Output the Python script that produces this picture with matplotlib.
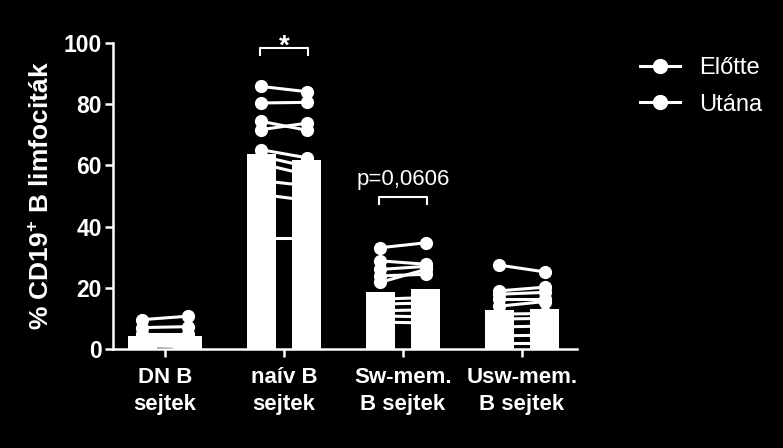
import matplotlib
matplotlib.use("Agg")
import matplotlib.pyplot as plt
from matplotlib.lines import Line2D
import numpy as np

#~~~Data~~~
groups = ["DN B\nsejtek", "naív B\nsejtek", "Sw-mem.\nB sejtek", "Usw-mem.\nB sejtek"]
bar_before = [4.2, 63.8, 18.5, 12.7]
bar_after = [4.2, 61.9, 19.5, 13.0]

# paired values, one row per subject
dn_before = [9.6, 7.0, 5.0, 4.0, 3.5, 3.0, 2.5, 2.3, 1.5, 1.0]
dn_after = [10.7, 7.3, 5.0, 4.0, 3.5, 3.0, 2.5, 2.3, 1.0, 0.8]
naiv_before = [85.8, 80.4, 74.4, 71.7, 65.1, 63.0, 60.5, 55.0, 50.5, 36.2]
naiv_after = [84.1, 80.6, 71.5, 73.8, 62.5, 59.6, 57.0, 53.4, 48.6, 36.2]
sw_before = [33.1, 28.8, 26.0, 23.9, 21.8, 16.3, 14.7, 12.5, 10.8, 8.8]
sw_after = [34.7, 27.7, 27.0, 24.4, 26.0, 16.8, 15.0, 12.8, 10.5, 8.5]
usw_before = [27.4, 19.0, 17.9, 16.3, 14.0, 11.4, 9.8, 7.2, 4.3, 2.0]
usw_after = [25.2, 20.2, 18.5, 16.3, 15.5, 11.6, 10.0, 7.5, 4.5, 2.0]

before = [dn_before, naiv_before, sw_before, usw_before]
after = [dn_after, naiv_after, sw_after, usw_after]

legend_labels = ["Előtte", "Utána"]

#~~~Style~~~
plt.rcParams['font.family'] = ['Liberation Sans', 'DejaVu Sans']
plt.rcParams['mathtext.fontset'] = 'custom'
plt.rcParams['mathtext.rm'] = 'Liberation Sans:bold'
plt.rcParams['mathtext.default'] = 'rm'

fig = plt.figure(figsize=(7.83, 4.48), dpi=100, facecolor='black')
ax = fig.add_axes([0.1443, 0.221, 0.5926, 0.683])
ax.set_facecolor('black')

off = 0.19
w = 0.25
x = np.arange(len(groups))

ax.bar(x - off, bar_before, width=w, color='white', zorder=2)
ax.bar(x + off, bar_after, width=w, color='white', zorder=2)

for i in range(len(groups)):
    for b, a in zip(before[i], after[i]):
        ax.plot([x[i] - off, x[i] + off], [b, a], '-', color='white', lw=2.2,
                marker='o', ms=9.5, mfc='white', mec='white', mew=0, zorder=3)

# significance brackets
def bracket(ax, xc, y, txt, bold, size, ty):
    ax.plot([xc - 0.2, xc - 0.2, xc + 0.2, xc + 0.2], [y - 2.2, y, y, y - 2.2],
            color='white', lw=1.5, clip_on=False, zorder=4)
    ax.text(xc, ty, txt, color='white', ha='center', va='baseline',
            fontsize=size, fontweight='bold' if bold else 'normal', clip_on=False)

bracket(ax, x[1], 98.4, "*", True, 20, 96.5)
bracket(ax, x[2], 49.7, "p=0,0606", False, 16, 53.6)

ax.set_xlim(-0.437, 3.462)
ax.set_ylim(0, 100)
ax.set_yticks([0, 20, 40, 60, 80, 100])
ax.set_xticks(x)
ax.set_xticklabels(groups, fontsize=16, fontweight='bold', color='white', linespacing=1.35)
for lab in ax.get_yticklabels():
    lab.set_fontsize(16.5)
    lab.set_fontweight('bold')
    lab.set_color('white')

for s in ['top', 'right']:
    ax.spines[s].set_visible(False)
for s in ['left', 'bottom']:
    ax.spines[s].set_color('white')
    ax.spines[s].set_linewidth(1.8)
ax.tick_params(colors='white', width=1.8, length=6, direction='out')
ax.tick_params(axis='x', pad=7)
ax.tick_params(axis='y', pad=2)

ax.set_ylabel("% CD19$^{+}$ B limfociták", fontsize=19, fontweight='bold',
              color='white', labelpad=7)

handles = [Line2D([0], [0], color='white', lw=2.2, marker='o', ms=10, mfc='white')
           for _ in legend_labels]
leg = fig.legend(handles, legend_labels, loc='upper left', bbox_to_anchor=(0.79, 0.92),
                 frameon=False, fontsize=17, handlelength=1.7, labelspacing=0.62,
                 handletextpad=0.8)
for t in leg.get_texts():
    t.set_color('white')

fig.savefig("out.png", dpi=100, facecolor='black')
